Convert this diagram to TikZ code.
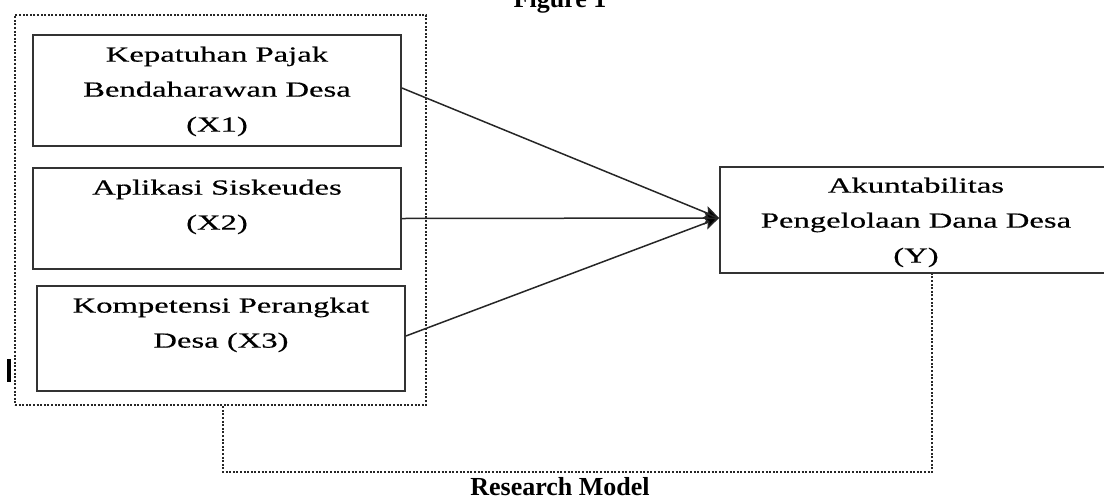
\documentclass[tikz,border=0pt]{standalone}
\usepackage{fontspec}
\setmainfont{Liberation Serif}
\newfontfamily\widefont[FakeStretch=1.52,FakeBold=0.5]{Liberation Serif}
\usetikzlibrary{arrows.meta}
\begin{document}
\begin{tikzpicture}[x=1pt,y=-1pt,
  box/.style={draw=black!80, line width=1.8pt, rectangle, inner sep=0pt},
  boxtext/.style={font=\widefont\fontsize{21.5}{35}\selectfont, align=center, anchor=north, inner sep=0pt, text=black},
  link/.style={draw=black!85, line width=1.5pt, -{Stealth[length=15pt,width=13pt,inset=3pt,fill=black]}},
  dotline/.style={draw=black!85, line width=2.4pt, dash pattern=on 2pt off 1.6pt},
  grpbox/.style={dotline, rectangle, inner sep=0pt},
  titletext/.style={font=\bfseries\fontsize{26}{30}\selectfont, anchor=base, inner sep=0pt}]
\useasboundingbox (0,0) rectangle (1104,499);
\clip (0,0) rectangle (1104,499);

% group box
\node[grpbox, minimum width=411pt, minimum height=390pt] (grp) at (220.5,210) {};

% boxes
\node[box, minimum width=368pt, minimum height=111pt] (x1) at (217,90.5) {};
\node[box, minimum width=368pt, minimum height=101pt] (x2) at (217,218.5) {};
\node[box, minimum width=368pt, minimum height=105pt] (x3) at (221,338.5) {};
\node[box, minimum width=392pt, minimum height=106pt] (y) at (916,220) {};

% texts
\node[boxtext] (t1) at (217,46.5) {Kepatuhan Pajak\\Bendaharawan Desa\\(X1)};
\node[boxtext] (t2) at (217,179.5) {Aplikasi Siskeudes\\(X2)};
\node[boxtext] (t3) at (221,297.5) {Kompetensi Perangkat\\Desa (X3)};
\node[boxtext] (ty) at (916,177.5) {Akuntabilitas\\Pengelolaan Dana Desa\\(Y)};

% arrows
\draw[link] ([yshift=2.5pt]x1.east) -- ([yshift=2pt]y.west);
\draw[link] (x2.east) -- ([yshift=2pt]y.west);
\draw[link] ([yshift=2.5pt]x3.east) -- ([yshift=2pt]y.west);

% bottom dotted connector
\coordinate (corner) at (932,472);
\draw[dotline] ([xshift=2.5pt]grp.south) |- (corner) -- ([xshift=16pt]y.south);

% small bar
\fill (7,359) rectangle (11,382);

% titles
\node[titletext] (fig) at (560,7) {Figure 1};
\node[titletext] (rm) at (560,495.5) {Research Model};
\end{tikzpicture}
\end{document}
